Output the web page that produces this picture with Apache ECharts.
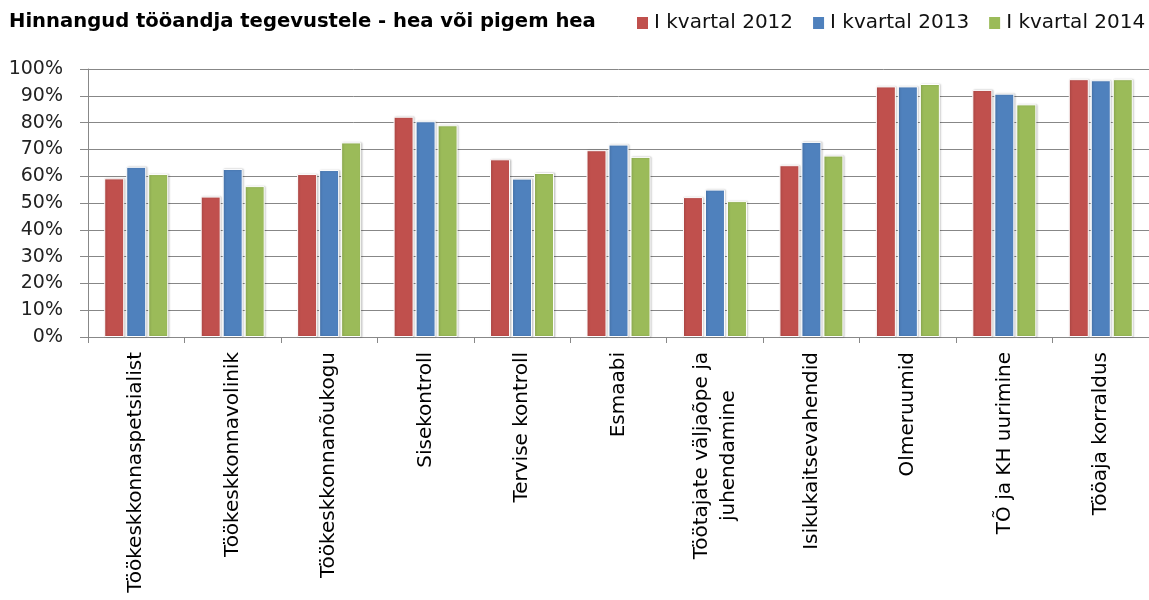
<!DOCTYPE html>
<html><head><meta charset="utf-8">
<script src="https://cdn.jsdelivr.net/npm/echarts@6/dist/echarts.min.js"></script>
<style>html,body{margin:0;padding:0;background:#fff}#c{width:1149px;height:600px}</style>
</head><body><div id="c"></div>
<script>
const categories = ["Töökeskkonnaspetsialist","Töökeskkonnavolinik","Töökeskkonnanõukogu","Sisekontroll","Tervise kontroll","Esmaabi","Töötajate väljaõpe ja\njuhendamine","Isikukaitsevahendid","Olmeruumid","TÕ ja KH uurimine","Tööaja korraldus"];
const seriesNames = ["I kvartal 2012","I kvartal 2013","I kvartal 2014"];
const q2012 = [59.2,52.4,60.8,82.2,66.3,69.7,52.2,64.1,93.5,92.2,96.2];
const q2013 = [63.5,62.7,62.3,80.5,59.1,71.8,55.0,72.8,93.5,90.8,95.8];
const q2014 = [60.8,56.3,72.6,79.0,61.2,67.2,50.7,67.7,94.4,86.8,96.2];
const colors = ["#C0504D","#4F81BD","#9BBB59"];
const values = [q2012,q2013,q2014];
const FONT = "DejaVu Sans";

const chart = echarts.init(document.getElementById('c'));
chart.setOption({
  animation:false,
  title:{text:"Hinnangud tööandja tegevustele - hea või pigem hea",left:9,top:12,padding:0,
    textStyle:{fontFamily:FONT,fontWeight:'bold',fontSize:19.6,color:'#000'}},
  legend:{left:635,top:13,padding:0,itemWidth:13,itemHeight:14,itemGap:18,icon:'rect',
    textStyle:{fontFamily:FONT,fontSize:20,color:'#111'},
    data:seriesNames},
  grid:{left:88,top:69,width:1066,height:268},
  xAxis:{type:'category',data:categories,
    axisLine:{lineStyle:{color:'#888',width:1}},
    axisTick:{show:true,length:6,lineStyle:{color:'#888'}},
    axisLabel:{rotate:90,margin:15,fontFamily:FONT,fontSize:20,color:'#000',interval:0,
      formatter:function(v){return v.split('\n').map(function(s){return '{c|'+s+'}';}).join('\n');},
      rich:{c:{align:'center',fontFamily:FONT,fontSize:20,color:'#000',lineHeight:27}}}},
  yAxis:{type:'value',min:0,max:100,interval:10,
    axisLine:{show:true,lineStyle:{color:'#888'}},
    axisTick:{show:true,length:8,lineStyle:{color:'#888'}},
    splitLine:{lineStyle:{color:'#878787',width:1}},
    axisLabel:{formatter:'{value}%',margin:25,fontFamily:FONT,fontSize:19,color:'#222'}},
  series: values.map(function(d,i){return {
    name:seriesNames[i],type:'bar',data:d,barWidth:20,barGap:'10%',
    itemStyle:{color:colors[i],borderColor:'#fff',borderWidth:1,
      shadowBlur:2,shadowColor:'rgba(0,0,0,0.2)',shadowOffsetX:1,shadowOffsetY:0}};})
});
</script></body></html>
